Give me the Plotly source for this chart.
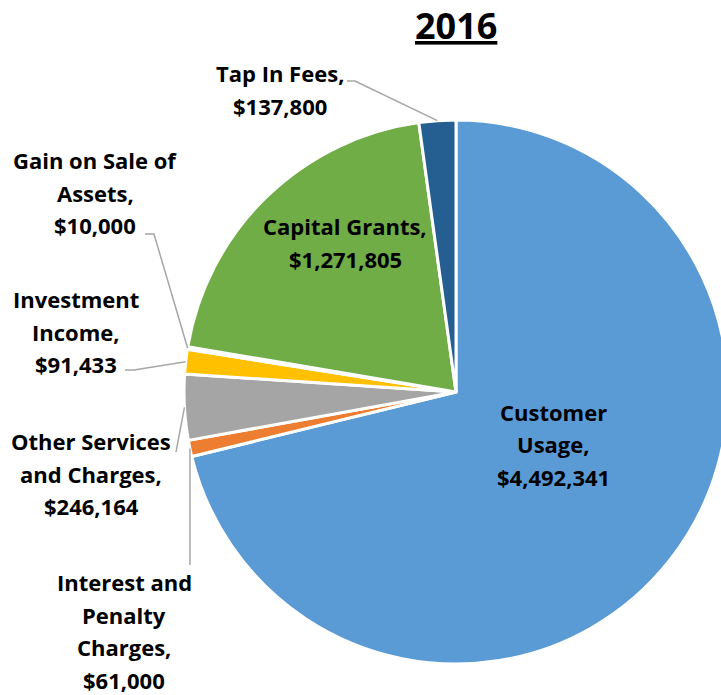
import math
import plotly.graph_objects as go

# ---- data ----
categories = ["Customer Usage", "Interest and Penalty Charges", "Other Services and Charges",
              "Investment Income", "Gain on Sale of Assets", "Capital Grants", "Tap In Fees"]
values = [4492341, 61000, 246164, 91433, 10000, 1271805, 137800]
label_lines = [
    ["Customer", "Usage,"],
    ["Interest and", "Penalty", "Charges,"],
    ["Other Services", "and Charges,"],
    ["Investment", "Income,"],
    ["Gain on Sale of", "Assets,"],
    ["Capital Grants,"],
    ["Tap In Fees,"],
]
title_text = "2016"

# ---- styling / layout ----
colors = ["#5B9BD5", "#ED7D31", "#A5A5A5", "#FFC000", "#4472C4", "#70AD47", "#255E91"]
W, H = 736, 695
CX, CY, R = 456, 392, 272
LS = 32.5  # line spacing px
FONT = "Open Sans"
# label first-line center (px)
label_pos = [(553, 412), (124, 582), (91, 441), (76, 299), (95, 160), (345, 226), (280, 73)]
# leader line label-side points (px); None = inside label
leader_pts = [None, [(None, 565)], [(176, 452)], [(125, 370), (134, 370)],
              [(145, 234), (154, 234)], None, [(347, 81), (355, 81)]]

def px(x):
    return x / W

def py(y):
    return 1 - y / H

fig = go.Figure(go.Pie(
    labels=categories, values=values, sort=False, direction="clockwise", rotation=0,
    marker=dict(colors=colors, line=dict(color="white", width=3)),
    textinfo="none", hoverinfo="label+value+percent",
    domain=dict(x=[px(CX - R), px(CX + R)], y=[py(CY + R), py(CY - R)]),
    showlegend=False,
))

annotations = []
shapes = []
total = sum(values)
cum = 0
for i, v in enumerate(values):
    mid = (cum + v / 2) / total * 2 * math.pi
    cum += v
    ex = CX + R * math.sin(mid)
    ey = CY - R * math.cos(mid)
    lines = label_lines[i] + ["${:,}".format(v)]
    lx, ly = label_pos[i]
    for j, t in enumerate(lines):
        annotations.append(dict(
            x=px(lx), y=py(ly + j * LS), xref="paper", yref="paper",
            text=t, showarrow=False, xanchor="center", yanchor="middle",
            font=dict(family=FONT, size=22, color="black", weight="bold"),
        ))
    if leader_pts[i]:
        pts = [(ex if a is None else a, b) for a, b in leader_pts[i]] + [(ex, ey)]
        path = "M " + " L ".join("{:.4f},{:.4f}".format(px(a), py(b)) for a, b in pts)
        shapes.append(dict(type="path", xref="paper", yref="paper", path=path,
                           line=dict(color="#A6A6A6", width=1.5)))

annotations.append(dict(
    x=px(456), y=py(25), xref="paper", yref="paper", text="<u>" + title_text + "</u>",
    showarrow=False, xanchor="center", yanchor="middle",
    font=dict(family=FONT, size=36, color="black", weight="bold"),
))

fig.update_layout(
    width=W, height=H, margin=dict(l=0, r=0, t=0, b=0),
    paper_bgcolor="white", plot_bgcolor="white",
    annotations=annotations, shapes=shapes,
)

fig.write_html("out.html", config={"displayModeBar": False},
               post_script="document.body.style.margin='0';document.body.style.overflow='hidden';"
                           "document.documentElement.style.overflow='hidden';")
